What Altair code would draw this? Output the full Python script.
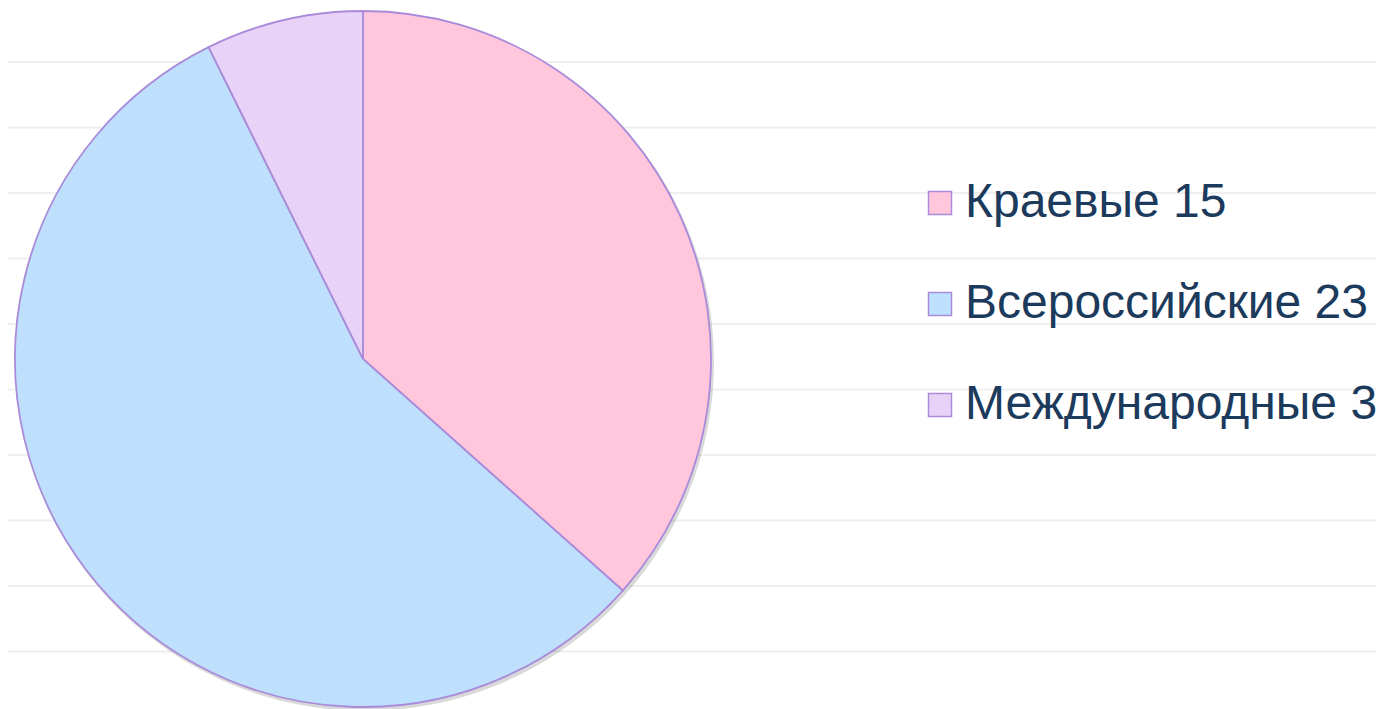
import altair as alt
import pandas as pd

categories = ["Краевые", "Всероссийские", "Международные"]
values = [15, 23, 3]
colors = ["#FFC6DC", "#BFE0FC", "#E8D2F8"]
line_index = list(range(10))

labels = [f"{c} {v}" for c, v in zip(categories, values)]
df = pd.DataFrame({"label": labels, "value": values, "order": list(range(len(values)))})
lines_df = pd.DataFrame({"i": line_index})
shadow_df = pd.DataFrame({"v": [1]})

W, H = 1368, 701
CX, CY, R = 355, 351, 348
STROKE = "#A98BDA"

lines = alt.Chart(lines_df).mark_rule(color="#EFEFEF", strokeWidth=2).encode(
    y=alt.Y("i:Q", scale=alt.Scale(domain=[0, 9], range=[54, 643.5]), axis=None),
    x=alt.value(-8),
    x2=alt.value(W + 8),
)

shadow = alt.Chart(shadow_df).mark_arc(outerRadius=R + 1, color="#000000", opacity=0.15).encode(
    theta=alt.Theta("v:Q"),
    x=alt.value(CX + 2),
    y=alt.value(CY + 3),
)

pie = alt.Chart(df).mark_arc(outerRadius=R, stroke=STROKE, strokeWidth=1.8).encode(
    theta=alt.Theta("value:Q", stack=True),
    order=alt.Order("order:Q"),
    color=alt.Color(
        "label:N",
        sort=labels,
        scale=alt.Scale(domain=labels, range=colors),
        legend=alt.Legend(
            title=None,
            orient="none",
            legendX=908,
            legendY=171,
            padding=0,
            symbolType="square",
            symbolSize=529,
            symbolStrokeColor=STROKE,
            symbolStrokeWidth=1.5,
            symbolOpacity=1,
            labelFont="Liberation Sans",
            labelFontSize=48,
            labelColor="#1B3A5C",
            labelOffset=1,
            labelLimit=600,
            rowPadding=53,
        ),
    ),
    x=alt.value(CX),
    y=alt.value(CY),
)

chart = alt.layer(lines, shadow, pie).properties(
    width=W, height=H, padding=0,
    autosize=alt.AutoSizeParams(type="none"),
).configure_view(stroke=None).resolve_scale(theta="independent")

chart.save("out.html", embed_options={"renderer": "svg", "actions": False})
